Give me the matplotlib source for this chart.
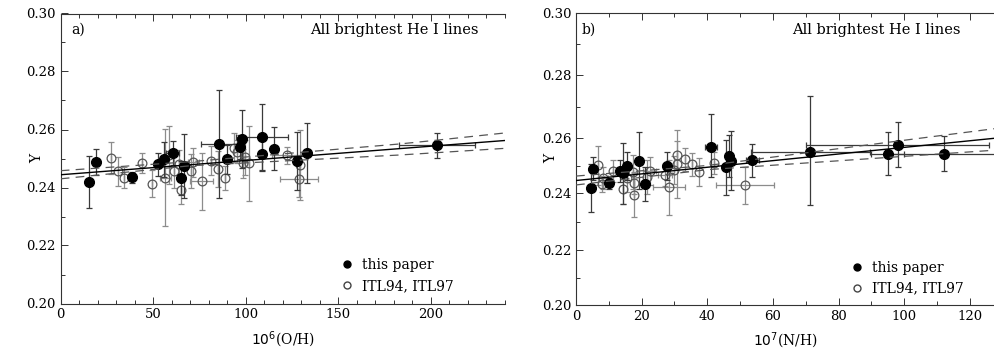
import numpy as np
import matplotlib
matplotlib.use('Agg')
import matplotlib.pyplot as plt
from matplotlib.lines import Line2D
from matplotlib.ticker import MultipleLocator

plt.rcParams['font.family'] = 'DejaVu Serif'

# ---- panel a: Y vs 10^6 (O/H) ----
oh_new = [15.3, 18.9, 38.5, 52.8, 56.1, 60.5, 65.0, 66.6, 85.6, 89.8, 97.1, 97.9,
          108.8, 108.8, 115.1, 127.7, 133.1, 203.4]
y_new_a = [0.2420, 0.2488, 0.2435, 0.2480, 0.2497, 0.2519, 0.2433, 0.2473, 0.2549, 0.2498,
           0.2540, 0.2566, 0.2574, 0.2517, 0.2534, 0.2491, 0.2519, 0.2545]
yerr_new_a = [0.009, 0.0046, 0.002, 0.004, 0.006, 0.004, 0.006, 0.011, 0.0186, 0.005,
              0.004, 0.010, 0.0115, 0.006, 0.0075, 0.010, 0.0104, 0.0044]
xerr_new_a = [0, 0, 0, 0, 0, 3.6, 0, 0, 9.7, 0, 0, 0, 13.8, 0, 0, 0, 0, 20.4]

oh_old = [27.0, 31.0, 34.4, 43.8, 49.2, 56.5, 58.5, 61.2, 64.1, 65.0, 70.4, 71.7, 76.2,
          81.1, 85.0, 88.6, 93.6, 95.1, 99.4, 98.3, 102.0, 122.1, 129.4, 129.0]
y_old_a = [0.2502, 0.2456, 0.2434, 0.2484, 0.2413, 0.2434, 0.2511, 0.2458, 0.2480, 0.2393,
           0.2457, 0.2487, 0.2421, 0.2493, 0.2463, 0.2433, 0.2537, 0.2523, 0.2504, 0.2483,
           0.2483, 0.2511, 0.2477, 0.2431]
yerr_old_a = [0.0056, 0.005, 0.0035, 0.0035, 0.0046, 0.0168, 0.010, 0.006, 0.005, 0.005,
              0.006, 0.005, 0.0097, 0.005, 0.0062, 0.004, 0.005, 0.004, 0.006, 0.005,
              0.0128, 0.003, 0.012, 0.0063]
xerr_old_a = [0, 0, 0, 0, 0, 3, 0, 0, 0, 0, 0, 3, 6.3, 0, 0, 0, 0, 0, 0, 0, 0, 8, 0, 10.2]

fit_a_x = [0, 240]
fit_a_y = [0.2444, 0.2562]
band_a_x = [0, 70, 183, 203, 240]
band_a_hi = [0.2458, 0.2489, 0.2550, 0.2563, 0.2588]
band_a_lo = [0.2430, 0.2475, 0.2512, 0.2520, 0.2535]

# ---- panel b: Y vs 10^7 (N/H) ----
nh_new = [4.5, 5.1, 10.1, 13.4, 14.4, 15.6, 19.3, 21.0, 27.6, 41.1, 45.6, 46.7, 47.3,
          53.7, 71.4, 94.9, 98.0, 112.0]
y_new_b = [0.2420, 0.2489, 0.2436, 0.2480, 0.2472, 0.2498, 0.2517, 0.2433, 0.2498, 0.2567,
           0.2493, 0.2533, 0.2517, 0.2519, 0.2547, 0.2542, 0.2573, 0.2543]
yerr_new_b = [0.0086, 0.004, 0.002, 0.004, 0.011, 0.005, 0.010, 0.006, 0.005, 0.011,
              0.010, 0.0075, 0.0104, 0.006, 0.0187, 0.0077, 0.0078, 0.0061]
xerr_new_b = [0, 0, 0, 0, 0, 0, 0, 0, 0, 1.9, 0, 0, 0, 2, 18, 5, 27.8, 16]

nh_old = [6.8, 8.1, 8.0, 11.2, 14.4, 15.6, 17.5, 17.7, 17.8, 21.5, 22.5, 27.1, 28.4, 29.9,
          30.9, 30.9, 33.3, 35.3, 37.4, 42.0, 51.5]
y_old_b = [0.2501, 0.2456, 0.2433, 0.2481, 0.2414, 0.2454, 0.2477, 0.2436, 0.2394, 0.2459,
           0.2480, 0.2465, 0.2421, 0.2483, 0.2537, 0.2505, 0.2522, 0.2504, 0.2477, 0.2509,
           0.2430]
yerr_old_b = [0.007, 0.004, 0.003, 0.004, 0.005, 0.005, 0.006, 0.004, 0.0078, 0.006, 0.005,
              0.004, 0.0097, 0.005, 0.005, 0.012, 0.004, 0.004, 0.005, 0.004, 0.0066]
xerr_old_b = [0, 1.5, 0, 0, 0, 0, 0, 0, 0, 0, 2, 2, 4.8, 0, 0, 0, 0, 0, 0, 0, 8.8]

fit_b_x = [0, 127.5]
fit_b_y = [0.2446, 0.2598]
band_b_x = [0, 40, 127.5]
band_b_hi = [0.2462, 0.2500, 0.2629]
band_b_lo = [0.2430, 0.2485, 0.2555]

# the scanned panel b has an uneven vertical scale: Y value -> pixel height above the x axis
b_scale_y = [0.19, 0.20, 0.22, 0.24, 0.26, 0.30, 0.31]
b_scale_px = [-55.0, 0.0, 55.0, 111.7, 167.3, 292.0, 323.0]

W, H = 995, 351
fig = plt.figure(figsize=(W / 100, H / 100), dpi=100)
# frames in pixels: (left, top, right, bottom)
fa = (60.7, 13.5, 504.7, 303.5)
fb = (576.0, 13.0, 994.6, 305.0)
ax_a = fig.add_axes([fa[0] / W, 1 - fa[3] / H, (fa[2] - fa[0]) / W, (fa[3] - fa[1]) / H])
ax_b = fig.add_axes([fb[0] / W, 1 - fb[3] / H, (fb[2] - fb[0]) / W, (fb[3] - fb[1]) / H])

ax_b.set_yscale('function', functions=(
    lambda v: np.interp(v, b_scale_y, b_scale_px),
    lambda p: np.interp(p, b_scale_px, b_scale_y)))

new_col = 'black'
new_bar = '#3a3a3a'
old_col = '#555555'
old_bar = '#8c8c8c'


def draw(ax, xn, yn, yen, xen, xo, yo, yeo, xeo, fx, fy, bx, bhi, blo):
    ax.errorbar(xo, yo, yerr=yeo, xerr=xeo, fmt='o', ms=6.3, mfc='none', mec=old_col,
                mew=0.9, ecolor=old_bar, elinewidth=0.9, capsize=2.5, capthick=0.9, zorder=2)
    ax.errorbar(xn, yn, yerr=yen, xerr=xen, fmt='o', ms=7, mfc=new_col, mec=new_col,
                ecolor=new_bar, elinewidth=0.9, capsize=2.5, capthick=0.9, zorder=3)
    ax.plot(fx, fy, color='black', lw=1.0, zorder=4)
    ax.plot(bx, bhi, color='#555555', lw=0.9, ls=(0, (7, 5)), zorder=4)
    ax.plot(bx, blo, color='#555555', lw=0.9, ls=(0, (7, 5)), zorder=4)
    ax.set_ylim(0.20, 0.30)
    ax.yaxis.set_major_locator(MultipleLocator(0.02))
    ax.yaxis.set_minor_locator(MultipleLocator(0.01))
    ax.yaxis.set_major_formatter(plt.FormatStrFormatter('%.2f'))
    ax.tick_params(which='both', direction='in', top=True, right=False, labelsize=9.5,
                   width=0.7, colors='#333333', labelcolor='black')
    ax.tick_params(which='major', length=5)
    ax.tick_params(which='minor', length=3)
    ax.spines['right'].set_visible(False)
    for s in ['left', 'bottom', 'top']:
        ax.spines[s].set_linewidth(0.8)
        ax.spines[s].set_color('#333333')


draw(ax_a, oh_new, y_new_a, yerr_new_a, xerr_new_a, oh_old, y_old_a, yerr_old_a, xerr_old_a,
     fit_a_x, fit_a_y, band_a_x, band_a_hi, band_a_lo)
draw(ax_b, nh_new, y_new_b, yerr_new_b, xerr_new_b, nh_old, y_old_b, yerr_old_b, xerr_old_b,
     fit_b_x, fit_b_y, band_b_x, band_b_hi, band_b_lo)

ax_a.set_xlim(0, 240)
ax_a.xaxis.set_major_locator(MultipleLocator(50))
ax_a.xaxis.set_minor_locator(MultipleLocator(10))
ax_a.set_xlabel('$10^6$(O/H)', fontsize=10, labelpad=6)

ax_b.set_xlim(0, 127.5)
ax_b.xaxis.set_major_locator(MultipleLocator(20))
ax_b.xaxis.set_minor_locator(MultipleLocator(10))
ax_b.set_xlabel('$10^7$(N/H)', fontsize=10, labelpad=6)


def px(frame, x, y):
    # pixel position -> axes fraction for a given frame
    return (x - frame[0]) / (frame[2] - frame[0]), (frame[3] - y) / (frame[3] - frame[1])


for ax, fr, lab, tag_x, title_r, ylab_x, leg_x, leg_y in [
        (ax_a, fa, 'a)', 71, 479, 37, 340, 275.5),
        (ax_b, fb, 'b)', 582, 961, 551, 850, 278)]:
    ax.text(*px(fr, tag_x, 30), lab, transform=ax.transAxes, fontsize=10, va='center')
    ax.text(*px(fr, title_r, 30), 'All brightest He I lines', transform=ax.transAxes,
            fontsize=10.5, va='center', ha='right')
    ax.set_ylabel('Y', fontsize=10, ha='center', va='center')
    ax.yaxis.set_label_coords(*px(fr, ylab_x, 158))
    handles = [Line2D([], [], ls='none', marker='o', ms=5, mfc='black', mec='black'),
               Line2D([], [], ls='none', marker='o', ms=5, mfc='none', mec='#444444')]
    ax.legend(handles, ['this paper', 'ITL94, ITL97'], frameon=False, fontsize=10,
              loc='center left', bbox_to_anchor=px(fr, leg_x, leg_y), borderpad=0,
              borderaxespad=0, handletextpad=0.6, handlelength=1.0, labelspacing=0.5)

fig.savefig('out.png', dpi=100)
